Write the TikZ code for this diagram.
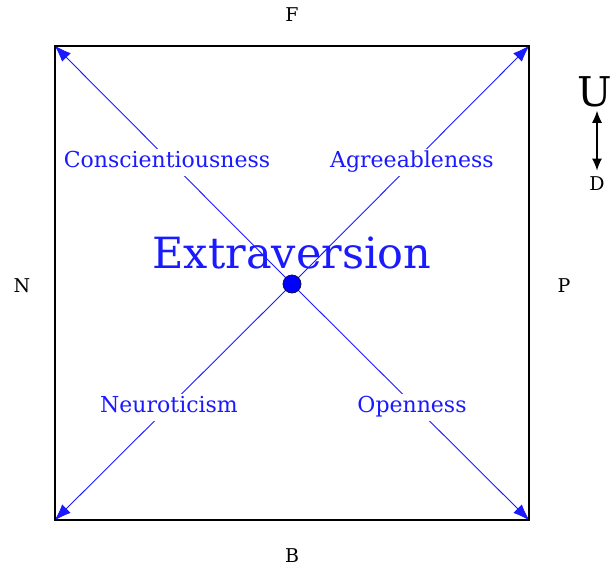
\documentclass[tikz,border=0pt]{standalone}
\usepackage{fontspec}
\setmainfont{DejaVu Serif}
\usetikzlibrary{arrows.meta,backgrounds}
\definecolor{traitblue}{HTML}{1A1AFF}
\definecolor{dotrim}{HTML}{10104A}

\begin{document}
\begin{tikzpicture}[
  x=1pt, y=-1pt,
  >={Latex[length=17pt,width=12pt]},
  axislabel/.style={
    font=\fontsize{19}{21}\selectfont,
    text=black
  },
  trait/.style={
    font=\fontsize{22}{24}\selectfont,
    text=traitblue,
    fill=white,
    inner sep=3pt,
    text height=16pt,
    text depth=5pt
  },
  spoke/.style={
    ->,
    draw=traitblue,
    line width=0.9pt
  }
]
  \useasboundingbox (0,0) rectangle (611,571);

  % Outer square
  \node[draw=black, line width=1.3pt, minimum size=474pt, inner sep=0pt] (frame) at (292,283) {};

  % Axis poles
  \node[axislabel] (front) at (292,15) {F};
  \node[axislabel] (back) at (292,556) {B};
  \node[axislabel] (negative) at (22,286) {N};
  \node[axislabel] (positive) at (564,286) {P};

  % Up / down legend
  \node[font=\fontsize{41}{45}\selectfont] (up) at (595,92) {U};
  \node[axislabel] (down) at (597,184) {D};
  \draw[<->, >={Latex[length=12pt,width=10pt]}, line width=1.2pt, shorten >=3pt] (down.north |- up.south) -- (down.north);

  % Centre and trait labels
  \node[circle, fill=blue, draw=dotrim, line width=0.8pt, inner sep=0pt, minimum size=18pt] (core) at (292,284) {};
  \node[font=\fontsize{43}{48}\selectfont, text=traitblue] (extra) at (292,253) {Extraversion};
  \node[trait] (consc) at (167,162) {Conscientiousness};
  \node[trait] (agree) at (412,162) {Agreeableness};
  \node[trait] (neuro) at (169,407) {Neuroticism};
  \node[trait] (open) at (412,407) {Openness};

  % Spokes to the corners
  \begin{scope}[on background layer]
    \draw[spoke] (core.center) -- (frame.north west);
    \draw[spoke] (core.center) -- (frame.north east);
    \draw[spoke] (core.center) -- (frame.south west);
    \draw[spoke] (core.center) -- (frame.south east);
  \end{scope}
\end{tikzpicture}
\end{document}
